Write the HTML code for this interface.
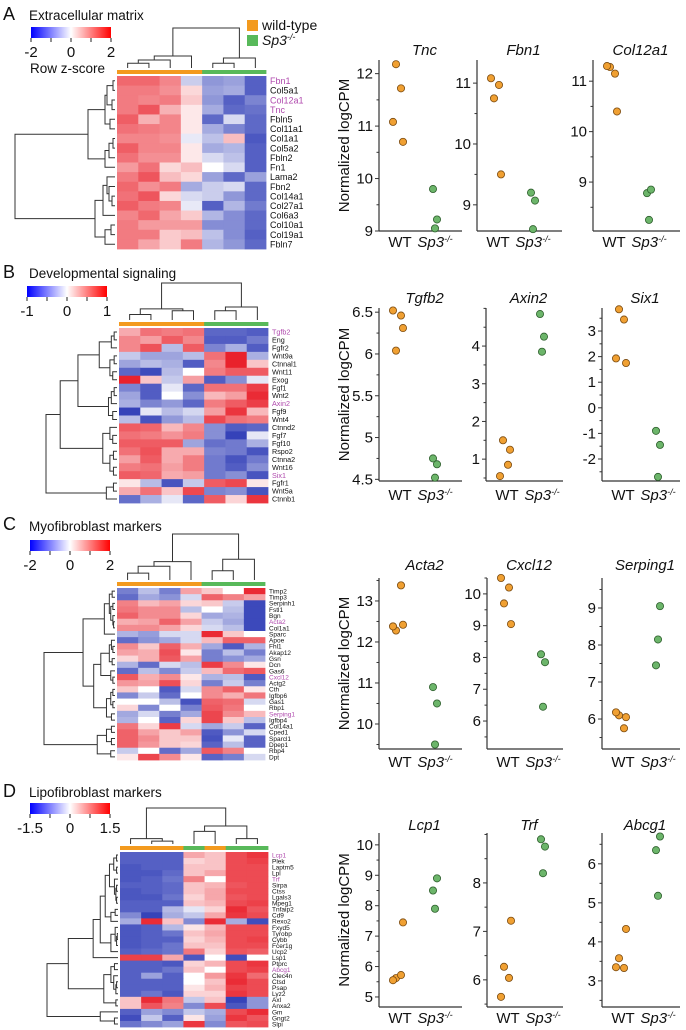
<!DOCTYPE html>
<html><head><meta charset="utf-8"><style>
html,body{margin:0;padding:0;background:#fff;}
svg{display:block;font-family:"Liberation Sans",Arial,sans-serif;}
</style></head><body>
<svg id="fig" width="686" height="1030" viewBox="0 0 686 1030" xmlns="http://www.w3.org/2000/svg">
<defs>
<linearGradient id="cb" x1="0" x2="1" y1="0" y2="0">
<stop offset="0" stop-color="#0000ff"/><stop offset="0.5" stop-color="#ffffff"/><stop offset="1" stop-color="#ff0000"/>
</linearGradient>
</defs>
<g id="root"></g>
</svg>
<script>
// ---------- Heatmap data ----------
const genesA = ["Fbn1","Col5a1","Col12a1","Tnc","Fbln5","Col11a1","Col1a1","Col5a2","Fbln2","Fn1","Lama2","Fbn2","Col14a1","Col27a1","Col6a3","Col10a1","Col19a1","Fbln7"];
const hlA = ["Fbn1","Col12a1","Tnc"];
const valsA = [
[1.2,1.2,0.9,-0.3,-0.8,-0.7,-1.4],[1.0,1.0,0.8,0.2,-0.7,-0.6,-1.4],[1.0,0.9,1.0,0.3,-0.8,-1.4,-1.0],
[1.0,1.4,0.5,0.1,-0.6,-1.3,-1.2],[1.3,0.5,0.9,0.1,-1.3,-0.2,-1.3],[1.1,1.0,0.9,0.1,-0.6,-1.0,-1.3],
[0.9,0.9,0.8,-0.1,-0.4,0.4,-1.5],[1.3,0.9,0.9,0.1,-0.6,-0.5,-1.4],[1.1,0.8,0.8,0.1,-0.2,-0.4,-1.4],
[0.7,1.1,0.2,0.4,0.0,-0.2,-1.4],[1.0,1.4,0.4,0.2,-0.7,-1.3,-0.7],[1.2,0.8,1.0,-0.6,-0.3,-0.2,-1.3],
[1.1,1.4,0.2,-0.2,-0.3,-0.8,-1.3],[1.3,1.0,0.9,-0.1,-1.4,-0.5,-1.1],[0.9,1.2,0.6,0.3,-0.5,-0.9,-1.3],
[1.0,0.7,0.7,0.7,-0.9,-0.9,-1.3],[1.0,1.0,0.3,0.4,-0.4,-0.9,-1.4],[1.0,0.6,0.3,1.0,-0.5,-0.8,-1.3]];
const groupsA = ["wt","wt","wt","wt","ko","ko","ko"];

const genesB = ["Tgfb2","Eng","Fgfr2","Wnt9a","Ctnnal1","Wnt11","Exog","Fgf1","Wnt2","Axin2","Fgf9","Wnt4","Ctnnd2","Fgf7","Fgf10","Rspo2","Ctnna2","Wnt16","Six1","Fgfr1","Wnt5a","Ctnnb1"];
const hlB = ["Tgfb2","Axin2","Six1"];
const valsB = [
[0.5,1.0,0.9,1.0,-1.2,-1.2,-1.3],[0.8,0.6,1.2,0.8,-1.3,-1.3,-1.0],[0.8,1.3,-0.4,1.2,-0.9,-0.5,-1.3],
[-0.3,-0.6,-0.6,-0.4,1.0,1.8,-0.5],[-0.6,-0.4,-0.5,-1.3,0.8,1.8,0.3],[-1.2,-1.5,-0.4,0.0,0.9,1.2,1.2],
[1.8,0.3,-0.3,0.6,-1.3,-0.8,-0.1],[-0.9,-1.3,-0.1,-1.2,1.0,1.0,1.5],[-0.6,-1.3,0.0,-0.8,0.4,0.6,1.7],
[-0.5,-0.9,-0.7,-1.2,0.9,1.2,1.5],[-1.6,-0.1,-0.4,-0.2,0.6,1.6,0.4],[-0.4,-1.4,-0.7,-0.4,1.4,1.0,0.9],
[1.2,1.1,0.4,0.8,-0.8,-1.3,-1.2],[1.0,0.9,0.7,0.9,-0.8,-1.6,-0.1],[1.2,1.2,1.2,-0.6,-1.1,-1.0,-0.5],
[1.0,1.3,0.5,0.5,-0.9,-1.0,-1.4],[0.6,1.2,0.5,0.9,-1.0,-1.4,-1.0],[0.9,1.0,0.6,0.9,-1.0,-1.3,-0.8],
[1.2,1.1,0.5,0.6,-1.0,-0.8,-1.4],[0.1,-0.4,-1.4,-0.3,1.2,1.4,0.1],[0.5,1.0,0.3,1.4,-0.9,-0.8,-1.4],
[-1.1,-0.5,-0.1,-1.2,1.2,0.2,1.6]];
const groupsB = ["wt","wt","wt","wt","ko","ko","ko"];

const genesC = ["Timp2","Timp3","Serpinh1","Fstl1","Bgn","Acta2","Col1a1","Sparc","Apoe","Fhl1","Akap12","Gsn","Dcn","Gas6","Cxcl12","Actg2","Cth","Igfbp6","Gas1","Rbp1","Serping1","Igfbp4","Col14a1","Cped1","Sparcl1","Dpep1","Rbp4","Dpt"];
const hlC = ["Acta2","Cxcl12","Serping1"];
const valsC = [
[-1.0,-0.4,-1.0,0.6,0.3,0.0,1.8],[-1.2,-0.6,-0.8,-0.2,1.2,0.9,0.6],[0.9,0.4,0.6,0.2,0.3,-0.3,-1.6],
[1.0,0.8,0.8,-0.4,0.0,-0.4,-1.6],[1.2,0.8,0.8,0.2,-0.6,-0.5,-1.6],[0.5,0.6,1.2,0.6,-0.3,-0.6,-1.6],
[0.8,0.8,0.6,0.2,-0.2,-0.4,-1.6],[-0.5,-0.7,-0.2,-0.2,1.8,0.3,0.0],[-1.2,-0.8,-0.6,-0.2,0.4,1.2,1.2],
[0.8,0.3,1.2,0.5,-0.6,-1.4,-0.5],[0.6,0.5,1.4,0.1,-1.0,-0.4,-1.0],[0.2,0.5,1.3,0.6,-1.0,-0.8,-0.6],
[-0.5,-1.2,-0.2,-0.4,1.6,0.8,0.1],[-1.2,-0.4,-0.9,-0.3,0.4,1.1,1.3],[1.3,0.5,0.8,0.1,-0.5,-0.4,-1.4],
[0.7,0.6,1.4,0.2,-1.0,-0.3,-1.0],[0.3,0.0,-1.4,-0.2,0.8,1.2,0.1],[-0.9,-0.3,-1.2,0.0,0.8,0.5,1.0],
[0.0,0.0,-0.4,-1.5,1.2,1.1,-0.2],[0.2,-0.9,0.0,-1.0,1.3,1.0,0.0],[-0.6,-0.2,-1.0,-0.6,1.5,0.8,0.4],
[-0.5,0.0,-1.3,0.2,1.5,0.3,-0.4],[1.0,0.2,1.6,-0.2,-0.6,-0.3,-1.3],[1.2,0.6,0.3,0.6,-1.4,-0.8,-0.2],
[1.2,0.8,0.3,0.3,-1.5,-0.1,-1.3],[1.2,0.7,0.3,0.2,-1.3,-0.4,-1.3],[-0.3,0.0,-1.2,-0.6,1.3,0.9,0.0],
[0.1,1.5,0.8,0.1,-1.3,-1.0,-0.2]];
const groupsC = ["wt","wt","wt","wt","ko","ko","ko"];

const genesD = ["Lcp1","Plek","Laptm5","Lpl","Trf","Sirpa","Ctss","Lgals3","Mpeg1","Tnfaip2","Cd9","Rexo2","Fxyd5","Tyrobp","Cybb","Fcer1g","Ucp2","Lsp1","Ptprc","Abcg1","Clec4n","Ctsd","Psap","Lyz2","Axl","Anxa2","Gm","Gngt2","Slpi"];
const hlD = ["Lcp1","Trf","Abcg1"];
const valsD = [
[-1.2,-1.2,-1.2,0.5,0.3,1.3,1.5],[-1.2,-1.2,-1.2,0.2,0.3,1.3,1.4],[-1.3,-1.2,-1.2,0.3,0.3,1.3,1.3],
[-1.3,-1.3,-1.1,0.3,0.5,1.3,1.3],[-1.3,-1.2,-1.0,0.8,0.0,1.3,1.3],[-1.2,-1.2,-1.1,0.3,0.4,1.2,1.3],
[-1.3,-1.2,-1.1,0.3,0.5,1.3,1.3],[-1.3,-1.3,-1.0,0.2,0.5,1.2,1.3],[-1.2,-1.2,-1.2,0.3,0.4,1.3,1.4],
[-1.2,-1.2,-0.4,-0.1,0.2,1.6,1.2],[-0.8,-1.5,-0.5,-0.3,0.5,1.5,1.3],[-0.5,1.6,0.3,-0.8,1.6,-0.5,-1.4],
[-1.3,-1.2,-0.4,0.1,0.4,1.3,1.3],[-1.3,-1.2,-1.0,0.3,0.5,1.3,1.3],[-1.3,-1.2,-1.2,0.2,0.4,1.3,1.4],
[-1.3,-1.2,-1.0,0.3,0.3,1.3,1.3],[-1.2,-1.1,-1.0,0.9,0.2,1.2,1.1],[1.4,1.4,0.5,-1.3,0.0,-1.4,0.0],
[-1.2,-1.2,-1.3,0.2,0.4,1.3,1.5],[-1.2,-1.2,-1.0,0.3,0.0,1.3,1.4],[-1.2,-0.6,-1.2,0.0,0.6,1.5,1.0],
[-1.2,-1.2,-1.2,0.0,0.3,1.6,1.3],[-1.2,-1.2,-1.2,0.1,0.4,1.4,1.3],[-1.2,-1.0,-1.3,0.2,0.2,1.5,1.3],
[0.3,1.6,0.9,-0.3,0.3,-1.5,-0.7],[0.3,1.2,0.8,-0.8,1.3,-1.3,-0.7],[-1.2,-0.6,-0.8,-0.3,-0.5,1.3,1.6],
[-1.4,-0.3,-1.2,0.1,-0.6,1.5,1.2],[-1.0,-0.8,-0.6,1.5,-0.8,1.2,1.3]];
const groupsD = ["wt","wt","wt","ko","wt","ko","ko"];

const cbTicksA = ["-2","0","2"], cbTicksB = ["-1","0","1"], cbTicksC = ["-2","0","2"], cbTicksD = ["-1.5","0","1.5"];

// ---------- Dot plot data ----------
const tncWT=[12.18,11.72,11.08,10.7], tncKO=[9.8,9.22,9.05];
const fbn1WT=[10.75,10.97,11.08,9.5], fbn1KO=[9.2,9.07,8.6];
const col12WT=[11.28,11.15,11.3,10.4], col12KO=[8.78,8.85,8.25];
const tgfb2WT=[6.04,6.46,6.52,6.31], tgfb2KO=[4.75,4.68,4.52];
const axin2WT=[1.5,0.85,0.55,1.25], axin2KO=[4.85,4.25,3.85];
const six1WT=[3.85,3.45,1.93,1.75], six1KO=[-0.9,-1.45,-2.7];
const acta2WT=[12.28,13.38,12.38,12.42], acta2KO=[10.9,10.5,9.5];
const cxcl12WT=[9.7,10.2,10.5,9.05], cxcl12KO=[8.1,7.85,6.45];
const serp1WT=[6.1,5.75,6.18,6.05], serp1KO=[7.45,9.05,8.15];
const lcp1WT=[5.62,5.72,5.55,7.45], lcp1KO=[8.5,8.9,7.9];
const trfWT=[6.27,6.04,5.65,7.22], trfKO=[8.9,8.75,8.2];
const abcg1WT=[3.58,3.33,3.35,4.33], abcg1KO=[6.35,6.7,5.18];
const tncTicks=[9,10,11,12], fbn1Ticks=[9,10,11], col12Ticks=[9,10,11];
const tgfb2Ticks=[4.5,5.0,5.5,6.0,6.5], axin2Ticks=[1,2,3,4], six1Ticks=[-2,-1,0,1,2,3];
const acta2Ticks=[10,11,12,13], cxcl12Ticks=[6,7,8,9,10], serp1Ticks=[6,7,8,9];
const lcp1Ticks=[5,6,7,8,9,10], trfTicks=[6,7,8], abcg1Ticks=[3,4,5,6];

// ---------- helpers ----------
const NS="http://www.w3.org/2000/svg";
const root=document.getElementById('root');
function mk(tag,attrs,parent){const e=document.createElementNS(NS,tag);for(const k in attrs)e.setAttribute(k,attrs[k]);(parent||root).appendChild(e);return e;}
function txt(s,attrs,parent){const e=mk('text',attrs,parent);e.textContent=s;return e;}
function mix(a,b,t){return Math.round(a+(b-a)*t);}
function cellColor(v,max){let t=Math.min(1,Math.abs(v)/max);t=Math.pow(t,0.75);
 if(v>=0)return `rgb(${mix(255,232,t)},${mix(255,25,t)},${mix(255,35,t)})`;
 return `rgb(${mix(255,25,t)},${mix(255,40,t)},${mix(255,175,t)})`;}
const ORANGE="#f39a1e", GREEN="#58b95a";

function drawTree(node,posOf,hToCoord,g,orient){
 if(typeof node==="number")return {p:posOf(node),c:hToCoord(0)};
 const a=drawTree(node[1],posOf,hToCoord,g,orient), b=drawTree(node[2],posOf,hToCoord,g,orient);
 const c=hToCoord(node[0]);
 let d;
 if(orient==="row") d=`M${a.c},${a.p}H${c}V${b.p}H${b.c}`;
 else d=`M${a.p},${a.c}V${c}H${b.p}V${b.c}`;
 const p=mk('path',{d:d,fill:'none',stroke:'#333','stroke-width':1},g);
 
 
 return {p:(a.p+b.p)/2,c:c};
}

function heatmap(o){
 const g=mk('g',{});
 
 
 const n=o.genes.length, cw=(o.x1-o.x0)/7, rh=(o.y1-o.y0)/n;
 o.vals.forEach((row,r)=>row.forEach((v,c)=>{
  const rc=mk('rect',{x:o.x0+c*cw,y:o.y0+r*rh,width:cw+0.4,height:rh+0.4,fill:cellColor(v,o.max)},g);
  
  
 }));
 o.groups.forEach((gr,c)=>{
  const rc=mk('rect',{x:o.x0+c*cw,y:o.y0-6,width:cw+0.4,height:4,fill:gr==="wt"?ORANGE:GREEN},g);
  
  
 });
 o.genes.forEach((s,r)=>{
  const t=txt(s,{x:o.x1+4,y:o.y0+(r+0.5)*rh+o.fs*0.36,'font-size':o.fs,fill:o.hl.includes(s)?'#b04aae':'#111'},g);
  
  
 });
 // row dendrogram
 drawTree(o.rowTree,i=>o.y0+(i+0.5)*rh,h=>o.x0-2-h*(o.x0-2-o.rxl),g,"row");
 // column dendrogram
 drawTree(o.colTree,i=>o.x0+(i+0.5)*cw,h=>o.y0-8-h*(o.y0-8-o.cyt),g,"col");
 // colorbar
 const cb=mk('rect',{x:o.cbx,y:o.cby,width:80,height:11,fill:'url(#cb)'},g);
 
 
 for(let i=0;i<=4;i++){mk('line',{x1:o.cbx+i*20,x2:o.cbx+i*20,y1:o.cby+11,y2:o.cby+15,stroke:'#222','stroke-width':1},g);}
 const pos=[0,40,80];
 o.cbTicks.forEach((s,i)=>{const t=txt(s,{x:o.cbx+pos[i],y:o.cby+30,'font-size':15,'text-anchor':'middle',fill:'#111'},g);
  
  });
}

const trA=[1,[0.27,[0.1,[0.08,[0.02,0,1],[0.03,2,3]],[0.05,4,5]],[0.1,[0.06,[0.02,6,7],8],9]],[0.2,[0.12,[0.08,10,[0.06,11,[0.03,12,13]]],14],[0.1,[0.04,15,16],17]]];
const bP=[0.25,[0.08,[0.04,0,1],2],[0.1,[0.04,3,4],[0.06,5,6]]];
const bQ=[0.12,[0.08,[0.04,7,8],9],[0.06,10,11]];
const bR=[0.2,[0.1,12,[0.06,13,14]],[0.1,[0.05,15,16],[0.05,17,18]]];
const trB=[1,[0.8,[0.55,bP,bQ],bR],[0.15,[0.05,19,20],21]];
const cg1=[0.15,[0.08,[0.04,0,1],[0.06,[0.03,2,3],[0.03,4,[0.02,5,6]]]],7];
const cg2a=[0.2,[0.08,[0.05,8,[0.03,9,10]],[0.04,11,12]],[0.06,13,[0.03,14,15]]];
const cg2b=[0.12,[0.06,[0.03,16,17],[0.03,18,19]],[0.05,20,21]];
const cg3=[0.25,[0.12,[0.05,22,23],[0.05,24,25]],[0.06,26,27]];
const trC=[1,[0.45,cg1,[0.3,cg2a,cg2b]],cg3];
const da=[0.12,[0.06,[0.02,0,1],[0.02,2,3]],[0.05,4,[0.03,[0.02,5,6],[0.02,7,8]]]];
const db=[0.1,[0.04,9,10],11];
const dc=[0.1,[0.04,12,[0.02,[0.01,13,14],15]],16];
const dd=[0.1,[0.05,18,19],[0.06,20,[0.03,[0.02,21,22],23]]];
const trD=[1,[0.7,[0.35,[0.25,[0.18,da,db],dc],17],[0.2,dd,[0.03,24,25]]],[0.25,26,[0.05,27,28]]];

heatmap({name:'ecm',genes:genesA,hl:hlA,vals:valsA,groups:groupsA,max:2.1,x0:117,x1:266,y0:76,y1:249,fs:9,
 rowTree:trA,rxl:15,colTree:[1,[0.3,[0.2,[0.12,0,1],2],3],[0.25,[0.12,4,5],6]],cyt:28,cbx:31,cby:27,cbTicks:cbTicksA});
heatmap({name:'signaling',genes:genesB,hl:hlB,vals:valsB,groups:groupsB,max:1.9,x0:119,x1:268,y0:328,y1:503,fs:7.2,
 rowTree:trB,rxl:46,colTree:[1,[0.3,[0.15,0,1],[0.25,2,3]],[0.35,[0.25,4,5],6]],cyt:283,cbx:27,cby:286,cbTicks:cbTicksB});
heatmap({name:'myofibroblast',genes:genesC,hl:hlC,vals:valsC,groups:groupsC,max:2.0,x0:117,x1:265,y0:588,y1:760,fs:6.5,
 rowTree:trC,rxl:44,colTree:[1,[0.4,[0.3,[0.15,0,1],2],3],[0.45,[0.2,4,5],6]],cyt:534,cbx:30,cby:540,cbTicks:cbTicksC});
heatmap({name:'lipofibroblast',genes:genesD,hl:hlD,vals:valsD,groups:groupsD,max:1.8,x0:120,x1:268,y0:852,y1:1027,fs:6.5,
 rowTree:trD,rxl:47,colTree:[1,[0.15,0,[0.08,1,2]],[0.5,[0.35,3,4],[0.15,5,6]]],cyt:808,cbx:30,cby:803,cbTicks:cbTicksD});

// titles / letters
[["A",20,"Extracellular matrix",20],["B",278,"Developmental signaling",278],["C",530,"Myofibroblast markers",531],["D",797,"Lipofibroblast markers",797]].forEach(a=>{
 const l=txt(a[0],{x:3,y:a[1],'font-size':18,fill:'#111'});
 
 
 const t=txt(a[2],{x:29,y:a[3],'font-size':13.5,fill:'#111'});
 
 
});
const rz=txt("Row z-score",{x:30,y:73,'font-size':13.5,fill:'#111'});


// legend
const l1=mk('rect',{x:247,y:20,width:11,height:11,fill:ORANGE});


const l2=mk('rect',{x:247,y:35,width:11,height:11,fill:GREEN});


const lt1=txt("wild-type",{x:262,y:30,'font-size':14,fill:'#111'});


const lt2=mk('text',{x:262,y:45,'font-size':14,fill:'#111','font-style':'italic'});
lt2.innerHTML='Sp3<tspan dy="-5" font-size="9">-/-</tspan>';



// ---------- dot plots ----------
const jitWT=[-3,2,-6,4], jitKO=[-2,2,0];
function dotplot(o){
 const g=mk('g',{});
 
 
 const y=v=>o.yb+(v-o.lo)*(o.yt-o.yb)/(o.hi-o.lo);
 mk('line',{x1:o.ax,x2:o.ax,y1:o.yt,y2:o.yb,stroke:'#333','stroke-width':1.2},g);
 mk('line',{x1:o.ax,x2:o.xe,y1:o.yb,y2:o.yb,stroke:'#333','stroke-width':1.2},g);
 const step=o.ticks.length>1?o.ticks[1]-o.ticks[0]:1;
 for(let v=o.ticks[0]-step/2;v<=o.hi;v+=step/2){if(v<o.lo)continue;
  const major=o.ticks.some(t=>Math.abs(t-v)<1e-6);
  mk('line',{x1:o.ax-(major?4:2.5),x2:o.ax,y1:y(v),y2:y(v),stroke:'#333','stroke-width':1},g);}
 o.ticks.forEach(v=>{const t=txt(String(v%1===0?v:v.toFixed(1)).replace('-','-'),{x:o.ax-6,y:y(v)+5,'font-size':15,'text-anchor':'end',fill:'#111'},g);
  
  });
 const ti=txt(o.title,{x:(o.ax+o.xe)/2+4,y:o.ty,'font-size':15,'font-style':'italic','text-anchor':'middle',fill:'#111'},g);
 
 
 const w=txt("WT",{x:o.ax+21,y:o.lb,'font-size':15,'text-anchor':'middle',fill:'#111'},g);
 
 
 const s=mk('text',{x:o.ax+56,y:o.lb,'font-size':15,'font-style':'italic','text-anchor':'middle',fill:'#111'},g);
 s.innerHTML='Sp3<tspan dy="-5" font-size="9">-/-</tspan>';
 
 
 o.wt.forEach((v,i)=>{const c=mk('circle',{cx:o.ax+20+jitWT[i],cy:y(v),r:3.6,fill:'#f0a032',stroke:'#7a4a10','stroke-width':0.8},g);
  
  });
 o.ko.forEach((v,i)=>{const c=mk('circle',{cx:o.ax+56+jitKO[i],cy:y(v),r:3.6,fill:'#6cb56a',stroke:'#2d5e2c','stroke-width':0.8},g);
  
  });
 if(o.ylab){const yl=txt("Normalized logCPM",{x:0,y:0,'font-size':15,'text-anchor':'middle',fill:'#111',transform:`translate(${349},${(o.yt+o.yb)/2}) rotate(-90)`},g);
  
  }
}
const R1={yt:60,yb:231,ty:55,lb:247}, R2={yt:308,yb:481,ty:303,lb:500}, R3={yt:578,yb:749,ty:570,lb:767}, R4={yt:833,yb:1007,ty:830,lb:1023};
dotplot({name:'tnc',title:'Tnc',ax:379,xe:462,lo:9.0,hi:12.26,ticks:tncTicks,wt:tncWT,ko:tncKO,ylab:true,...R1});
dotplot({name:'fbn1',title:'Fbn1',ax:477,xe:562,lo:8.57,hi:11.38,ticks:fbn1Ticks,wt:fbn1WT,ko:fbn1KO,...R1});
dotplot({name:'col12a1',title:'Col12a1',ax:593,xe:680,lo:8.03,hi:11.42,ticks:col12Ticks,wt:col12WT,ko:col12KO,...R1});
dotplot({name:'tgfb2',title:'Tgfb2',ax:379,xe:462,lo:4.48,hi:6.55,ticks:tgfb2Ticks,wt:tgfb2WT,ko:tgfb2KO,ylab:true,...R2});
dotplot({name:'axin2',title:'Axin2',ax:486,xe:563,lo:0.42,hi:5.01,ticks:axin2Ticks,wt:axin2WT,ko:axin2KO,...R2});
dotplot({name:'six1',title:'Six1',ax:602,xe:680,lo:-2.86,hi:3.9,ticks:six1Ticks,wt:six1WT,ko:six1KO,...R2});
dotplot({name:'acta2',title:'Acta2',ax:379,xe:462,lo:9.39,hi:13.56,ticks:acta2Ticks,wt:acta2WT,ko:acta2KO,ylab:true,...R3});
dotplot({name:'cxcl12',title:'Cxcl12',ax:487,xe:563,lo:5.12,hi:10.5,ticks:cxcl12Ticks,wt:cxcl12WT,ko:cxcl12KO,...R3});
dotplot({name:'serping1',title:'Serping1',ax:602,xe:680,lo:5.19,hi:9.81,ticks:serp1Ticks,wt:serp1WT,ko:serp1KO,...R3});
dotplot({name:'lcp1',title:'Lcp1',ax:379,xe:462,lo:4.67,hi:10.39,ticks:lcp1Ticks,wt:lcp1WT,ko:lcp1KO,ylab:true,...R4});
dotplot({name:'trf',title:'Trf',ax:487,xe:563,lo:5.44,hi:9.03,ticks:trfTicks,wt:trfWT,ko:trfKO,...R4});
dotplot({name:'abcg1',title:'Abcg1',ax:602,xe:680,lo:2.33,hi:6.79,ticks:abcg1Ticks,wt:abcg1WT,ko:abcg1KO,...R4});
</script>
</body></html>
